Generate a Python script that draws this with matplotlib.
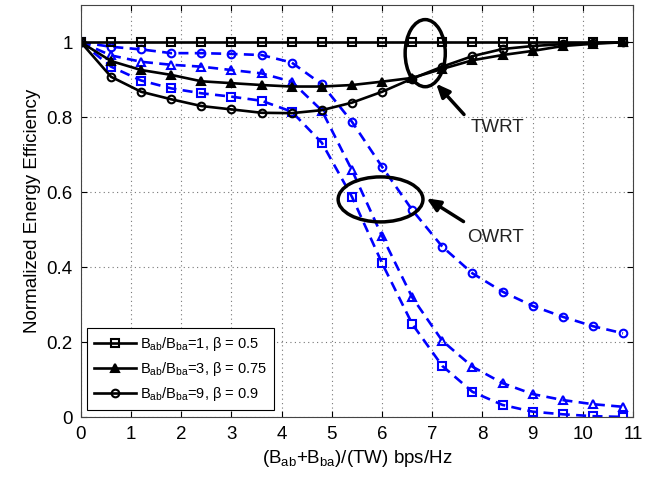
import matplotlib.pyplot as plt
from matplotlib.patches import Ellipse

plt.rcParams['font.family'] = ['Liberation Sans', 'DejaVu Sans']
plt.rcParams['mathtext.fontset'] = 'custom'
plt.rcParams['mathtext.rm'] = 'Liberation Sans'
plt.rcParams['mathtext.it'] = 'Liberation Sans:italic'

x = [0, 0.6, 1.2, 1.8, 2.4, 3.0, 3.6, 4.2, 4.8, 5.4, 6.0, 6.6, 7.2, 7.8, 8.4, 9.0, 9.6, 10.2, 10.8]

# TWRT (solid black)
twrt_b05 = [1.0] * 19
twrt_b075 = [1.0, 0.95, 0.926, 0.913, 0.896, 0.891, 0.886, 0.882, 0.882, 0.886, 0.895,
             0.905, 0.929, 0.952, 0.966, 0.977, 0.99, 0.996, 1.0]
twrt_b09 = [1.0, 0.908, 0.868, 0.848, 0.830, 0.821, 0.812, 0.811, 0.819, 0.839, 0.868,
            0.903, 0.935, 0.963, 0.982, 0.99, 0.995, 0.998, 1.0]

# OWRT (dashed blue)
owrt_b05 = [1.0, 0.935, 0.898, 0.877, 0.864, 0.855, 0.844, 0.815, 0.732, 0.588, 0.411,
            0.249, 0.137, 0.068, 0.033, 0.015, 0.008, 0.003, 0.001]
owrt_b075 = [1.0, 0.965, 0.948, 0.94, 0.935, 0.926, 0.917, 0.895, 0.818, 0.659, 0.483,
             0.32, 0.204, 0.135, 0.091, 0.062, 0.046, 0.035, 0.028]
owrt_b09 = [1.0, 0.988, 0.981, 0.971, 0.971, 0.969, 0.966, 0.946, 0.888, 0.788, 0.668,
            0.553, 0.455, 0.384, 0.335, 0.297, 0.268, 0.243, 0.224]

labels = [r'B$_{\mathrm{ab}}$/B$_{\mathrm{ba}}$=1, β = 0.5',
          r'B$_{\mathrm{ab}}$/B$_{\mathrm{ba}}$=3, β = 0.75',
          r'B$_{\mathrm{ab}}$/B$_{\mathrm{ba}}$=9, β = 0.9']
markers = ['s', '^', 'o']

fig = plt.figure(figsize=(6.58, 4.78), dpi=100)
ax = fig.add_axes([0.123, 0.127, 0.839, 0.863])

blue = (0, 0, 1)
for ys, m in zip([owrt_b05, owrt_b075, owrt_b09], markers):
    ax.plot(x, ys, '--', color=blue, lw=1.9, marker=m, ms=5.5, mfc='none', mew=1.5,
            dashes=(3.8, 2.4))

handles = []
for ys, m, lab in zip([twrt_b05, twrt_b075, twrt_b09], markers, labels):
    h, = ax.plot(x, ys, '-', color='black', lw=1.9, marker=m, ms=5.5,
                 mfc='black' if m == '^' else 'none', mew=1.5, label=lab)
    handles.append(h)

# annotations
ax.add_patch(Ellipse((6.86, 0.971), 0.80, 0.179, fill=False, ec='black', lw=2.5, zorder=5))
ax.add_patch(Ellipse((5.97, 0.581), 1.69, 0.12, fill=False, ec='black', lw=2.5, zorder=5))
ax.annotate('', xy=(7.04, 0.895), xytext=(7.67, 0.802),
            arrowprops=dict(arrowstyle='-|>,head_length=0.8,head_width=0.35', color='black', lw=2.5))
ax.annotate('', xy=(6.84, 0.588), xytext=(7.67, 0.518),
            arrowprops=dict(arrowstyle='-|>,head_length=0.8,head_width=0.35', color='black', lw=2.5))
ax.text(8.3, 0.773, 'TWRT', fontsize=13.5, color='#222222', ha='center', va='center')
ax.text(8.27, 0.48, 'OWRT', fontsize=13.5, color='#222222', ha='center', va='center')

ax.set_xlim(0, 11)
ax.set_ylim(0, 1.1)
ax.set_xticks(range(0, 12))
ax.set_yticks([0, 0.2, 0.4, 0.6, 0.8, 1.0])
ax.set_yticklabels(['0', '0.2', '0.4', '0.6', '0.8', '1'])
ax.grid(True, linestyle=(0, (1, 3)), color='#777777', lw=0.8)
ax.tick_params(direction='in', top=True, right=True, labelsize=13.5, length=4, pad=6)
for s in ax.spines.values():
    s.set_color('#444444')

ax.set_xlabel(r'(B$_{\mathrm{ab}}$+B$_{\mathrm{ba}}$)/(TW) bps/Hz', fontsize=13.5)
ax.set_ylabel('Normalized Energy Efficiency', fontsize=13.5)

leg = ax.legend(handles=handles, loc='lower left', bbox_to_anchor=(0.011, 0.018),
                borderaxespad=0, fontsize=10.5, fancybox=False, edgecolor='black',
                framealpha=1, handlelength=2.9, labelspacing=0.5, borderpad=0.45,
                handletextpad=0.3)
leg.get_frame().set_linewidth(0.8)

fig.savefig('out.png', dpi=100)
